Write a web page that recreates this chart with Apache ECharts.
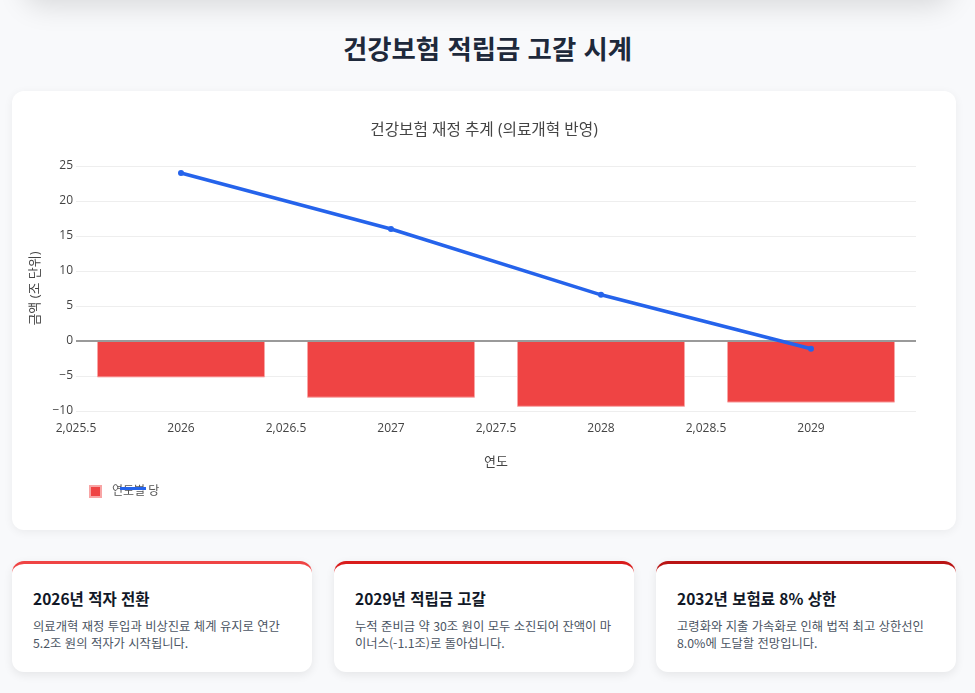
<!DOCTYPE html>
<html lang="ko">
<head>
<meta charset="utf-8">
<script src="https://cdn.jsdelivr.net/npm/echarts@6/dist/echarts.min.js"></script>
<style>
  html, body { margin:0; padding:0; }
  body { width:975px; height:693px; background:#f8f9fb; font-family:"Noto Sans CJK KR","Noto Sans",sans-serif; position:relative; overflow:hidden; }
  .topshadow { position:absolute; left:24px; right:24px; top:-70px; height:70px; border-radius:18px; background:#fff; box-shadow:0 6px 28px rgba(0,0,0,0.13); }
  h1 { position:absolute; left:0; right:0; top:28px; margin:0; text-align:center; font-size:26.4px; font-weight:700; color:#1e293b; }
  .card { position:absolute; left:12px; top:91px; width:944px; height:439px; background:#fff; border-radius:12px; box-shadow:0 2px 10px rgba(0,0,0,0.06); }
  #chart { width:944px; height:439px; }
  .info { position:absolute; top:561px; height:111px; background:#fff; border-radius:12px; box-shadow:0 3px 10px rgba(0,0,0,0.08); box-sizing:border-box; padding:23px 20px 0 21px; border-top:3px solid #ef4444; }
  .info h3 { margin:0 0 9px 0; font-size:15.5px; font-weight:700; color:#111827; }
  .info p { margin:0; font-size:12.3px; line-height:17px; color:#4b5563; }
</style>
</head>
<body>
<div class="topshadow"></div>
<h1>건강보험 적립금 고갈 시계</h1>
<div class="card"><div id="chart"></div></div>
<div class="info" style="left:12px;width:300px;border-top-color:#ef4444;">
  <h3>2026년 적자 전환</h3>
  <p>의료개혁 재정 투입과 비상진료 체계 유지로 연간<br>5.2조 원의 적자가 시작됩니다.</p>
</div>
<div class="info" style="left:334px;width:300px;border-top-color:#d91c1c;">
  <h3>2029년 적립금 고갈</h3>
  <p>누적 준비금 약 30조 원이 모두 소진되어 잔액이 마<br>이너스(-1.1조)로 돌아섭니다.</p>
</div>
<div class="info" style="left:656px;width:300px;border-top-color:#b91414;">
  <h3>2032년 보험료 8% 상한</h3>
  <p>고령화와 지출 가속화로 인해 법적 최고 상한선인<br>8.0%에 도달할 전망입니다.</p>
</div>
<script>
const years = [2026, 2027, 2028, 2029];
const annualBalance = [-5.2, -8.1, -9.4, -8.8];
const reserveFund = [24.0, 16.0, 6.6, -1.1];
const barName = '연도별 당기수지';
const lineName = '누적 적립금';

const chart = echarts.init(document.getElementById('chart'));
const font = '"Open Sans","Noto Sans CJK KR",sans-serif';
chart.setOption({
  animation: false,
  textStyle: { fontFamily: font },
  title: {
    text: '건강보험 재정 추계 (의료개혁 반영)',
    left: 'center', top: 27,
    textStyle: { fontSize: 15.7, fontWeight: 'normal', color: '#444', fontFamily: font }
  },
  legend: [
    {
      data: [barName], left: 72, top: 389, icon: 'rect', itemWidth: 11, itemHeight: 11,
      itemGap: 0,
      textStyle: { fontSize: 12, color: '#555', width: 52, overflow: 'truncate', ellipsis: '', padding: [0,0,0,6] }
    },
    {
      data: [lineName], left: 103, top: 391, icon: 'rect', itemWidth: 26, itemHeight: 3,
      formatter: () => '', textStyle: { fontSize: 1 }
    }
  ],
  grid: { left: 64, right: 40, top: 75, bottom: 119 },
  xAxis: {
    type: 'value', min: 2025.5, max: 2029.5, interval: 0.5,
    name: '연도', nameLocation: 'middle', nameGap: 45,
    nameTextStyle: { fontSize: 13, color: '#444' },
    axisLine: { show: false }, axisTick: { show: false }, splitLine: { show: false },
    axisLabel: {
      fontSize: 12, color: '#444', margin: 12, showMaxLabel: false,
      formatter: v => Number.isInteger(v) ? String(v) : v.toLocaleString('en-US')
    }
  },
  yAxis: {
    type: 'value', min: -10, max: 25, interval: 5,
    name: '금액 (조 단위)', nameLocation: 'middle', nameGap: 30,
    nameTextStyle: { fontSize: 13, color: '#444' },
    axisLine: { show: false }, axisTick: { show: false },
    splitLine: { lineStyle: { color: '#eeeeee', width: 1 } },
    axisLabel: {
      fontSize: 12, color: '#444', margin: 3,
      formatter: v => v < 0 ? '\u2212' + Math.abs(v) : String(v)
    }
  },
  series: [
    {
      name: barName, type: 'bar',
      data: years.map((y, i) => [y, annualBalance[i]]),
      barWidth: 168,
      itemStyle: { color: '#ef4444', borderColor: '#f8a5a5', borderWidth: 1 },
      markLine: {
        silent: true, symbol: 'none', label: { show: false },
        lineStyle: { color: '#9a9a9a', width: 2, type: 'solid' },
        data: [{ yAxis: 0 }]
      },
      z: 2
    },
    {
      name: lineName, type: 'line',
      data: years.map((y, i) => [y, reserveFund[i]]),
      symbol: 'circle', symbolSize: 6,
      lineStyle: { color: '#2563eb', width: 3.5 },
      itemStyle: { color: '#2563eb' },
      z: 5
    }
  ]
});
</script>
</body>
</html>
